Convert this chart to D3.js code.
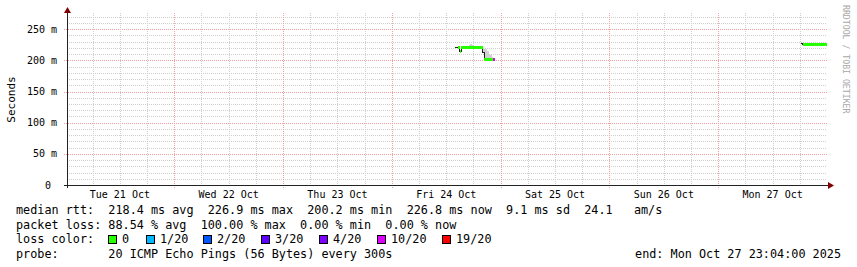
<!DOCTYPE html>
<meta charset="utf-8">
<style>
  body { margin: 0; background: #fff; }
  svg { display: block; }
  text { font-family: "DejaVu Sans Mono", monospace; fill: #000; white-space: pre; }
</style>
<body>
<div id="chart"></div>
<script src="https://cdn.jsdelivr.net/npm/d3@7"></script>
<script>

// ---- data ----
var yTickValues = [0, 50, 100, 150, 200, 250];
var yTickLabels = ["0 ", "50 m", "100 m", "150 m", "200 m", "250 m"];
var dayLabels = ["Tue 21 Oct", "Wed 22 Oct", "Thu 23 Oct", "Fri 24 Oct", "Sat 25 Oct", "Sun 26 Oct", "Mon 27 Oct"];

// Fri 24 Oct, 20 min steps (median ms, loss out of 20, smoke low / high ms)
var friTimes  = ["14:00","14:20","14:40","15:00","15:20","15:40","16:00","16:20","16:40","17:00","17:20","17:40","18:00",
                 "18:20","18:40","19:00","19:20","19:40","20:00","20:20","20:40","21:00","21:20","21:40","22:00","22:20"];
var friMedian = [221,221,220,214,220,220,220,220,220,220,220,220,220,220,220,220,220,220,213,201,201,201,201,201,201,201];
var friLoss   = [null,null,0,0,0,0,0,0,0,0,0,0,0,0,0,0,0,0,null,0,0,0,0,0,0,10];
var friSmokeLo= [221,221,219,212,219,219,219,219,219,219,219,219,219,219,219,219,219,219,212,200,200,200,200,200,200,200];
var friSmokeHi= [221,221,221,216,221,221,221,221,221,224,226,224,221,221,221,221,221,221,220,219,218,215,211,209,205,203];

// Mon 27 Oct
var monTimes  = ["18:20","18:40","19:00","19:20","19:40","20:00","20:20","20:40","21:00","21:20","21:40","22:00","22:20","22:40","23:00","23:20","23:40"];
var monMedian = [227,226,226,226,226,226,226,226,225,225,226,226,226,226,226,226,226];
var monLoss   = [null,0,0,0,0,0,0,0,0,0,0,0,0,0,0,0,0];
var monSmokeLo= [227,225,225,225,225,225,225,225,224,224,225,225,225,225,225,225,225];
var monSmokeHi= [227,227,227,227,227,227,227,227,227,227,227,227,227,227,227,227,227];

var stepMinutes = 20;

// loss colour legend
var lossLabels = ["0", "1/20", "2/20", "3/20", "4/20", "10/20", "19/20"];
var lossLimits = [0, 1, 2, 3, 4, 10, 19];
var lossColors = ["#26ff00", "#00b8ff", "#0059ff", "#5e00ff", "#7e00ff", "#dd00ff", "#ff0000"];

var legendLines = [
  "median rtt:  218.4 ms avg  226.9 ms max  200.2 ms min  226.8 ms now  9.1 ms sd  24.1   am/s",
  "packet loss: 88.54 % avg  100.00 % max  0.00 % min  0.00 % now",
  "loss color:",
  "probe:       20 ICMP Echo Pings (56 Bytes) every 300s"
];
var endLabel = "end: Mon Oct 27 23:04:00 2025";

// ---- layout ----
var W = 857, H = 267;
var plot = {left: 67, right: 827, top: 13, bottom: 185};

var svg = d3.select("#chart").append("svg")
  .attr("width", W).attr("height", H);

var x = d3.scaleTime()
  .domain([new Date(2025, 9, 21, 0, 20), new Date(2025, 9, 28, 0, 0)])
  .range([plot.left, plot.right]);
var y = d3.scaleLinear().domain([0, 276]).range([plot.bottom, plot.top]);

var px = function(v) { return Math.round(v) + 0.5; };

// ---- grid ----
var grid = svg.append("g").attr("shape-rendering", "crispEdges");

// horizontal minor (10) and major (50)
d3.range(10, 276, 10).forEach(function(v) {
  var major = v % 50 === 0;
  grid.append("line")
    .attr("x1", major ? plot.left - 3 : plot.left).attr("x2", plot.right)
    .attr("y1", px(y(v))).attr("y2", px(y(v)))
    .attr("stroke", major ? "#f0a0a0" : "#cfcfcf")
    .attr("stroke-dasharray", "1,1");
});

// vertical: 6 h minor, day major
d3.timeHour.every(6).range(x.domain()[0], x.domain()[1]).forEach(function(t) {
  var major = t.getHours() === 0;
  grid.append("line")
    .attr("x1", px(x(t))).attr("x2", px(x(t)))
    .attr("y1", plot.top).attr("y2", major ? plot.bottom + 3 : plot.bottom)
    .attr("stroke", major ? "#f0a0a0" : "#cfcfcf")
    .attr("stroke-dasharray", "1,1");
});

// ---- data marks ----
function lossColor(l) {
  for (var i = 0; i < lossLimits.length; i++) if (l <= lossLimits[i]) return lossColors[i];
  return lossColors[lossColors.length - 1];
}

function drawSegment(day, times, med, loss, lo, hi) {
  var rows = times.map(function(s, i) {
    var hm = s.split(":");
    var t0 = new Date(2025, 9, day, +hm[0], +hm[1]);
    return {t0: t0, t1: d3.timeMinute.offset(t0, stepMinutes), m: med[i], loss: loss[i], lo: lo[i], hi: hi[i]};
  });
  var g = svg.append("g").attr("shape-rendering", "crispEdges");

  // smoke
  g.selectAll("rect.smoke").data(rows).enter().append("rect")
    .attr("class", "smoke")
    .attr("x", function(d) { return x(d.t0); })
    .attr("width", function(d) { return x(d.t1) - x(d.t0); })
    .attr("y", function(d) { return y(d.hi); })
    .attr("height", function(d) { return Math.max(0, y(d.lo) - y(d.hi)); })
    .attr("fill", "#d0d0d0");

  // dark median line
  var pts = rows.map(function(d) { return [x(d.t0), y(d.m)]; });
  var last = rows[rows.length - 1];
  pts.push([x(last.t1), y(last.m)]);
  g.append("path")
    .attr("d", d3.line().curve(d3.curveStepAfter)(pts))
    .attr("fill", "none").attr("stroke", "#202020").attr("stroke-width", 1);

  // loss coloured band
  g.selectAll("rect.band").data(rows.filter(function(d) { return d.loss !== null; })).enter().append("rect")
    .attr("class", "band")
    .attr("x", function(d) { return x(d.t0); })
    .attr("width", function(d) { return x(d.t1) - x(d.t0); })
    .attr("y", function(d) { return y(d.m) - 1.5; })
    .attr("height", 3)
    .attr("fill", function(d) { return lossColor(d.loss); });
}

drawSegment(24, friTimes, friMedian, friLoss, friSmokeLo, friSmokeHi);
drawSegment(27, monTimes, monMedian, monLoss, monSmokeLo, monSmokeHi);

// ---- axes ----
var axis = svg.append("g").attr("shape-rendering", "crispEdges");
axis.append("line")
  .attr("x1", plot.left - 3).attr("x2", plot.right + 3)
  .attr("y1", px(plot.bottom)).attr("y2", px(plot.bottom))
  .attr("stroke", "#222");
axis.append("line")
  .attr("x1", px(plot.left)).attr("x2", px(plot.left))
  .attr("y1", plot.bottom + 3).attr("y2", plot.top - 3)
  .attr("stroke", "#222");

// arrows
svg.append("path")
  .attr("d", "M" + (plot.left + 0.5) + ",7 L" + (plot.left - 3) + ",13 L" + (plot.left + 4) + ",13 Z")
  .attr("fill", "#7f0000");
svg.append("path")
  .attr("d", "M834," + (plot.bottom + 0.5) + " L828," + (plot.bottom - 3) + " L828," + (plot.bottom + 4) + " Z")
  .attr("fill", "#7f0000");

// y tick labels
svg.append("g").selectAll("text").data(yTickValues).enter().append("text")
  .attr("x", 57)
  .attr("y", function(d) { return y(d) + 3.5; })
  .attr("text-anchor", "end")
  .attr("font-size", 10)
  .text(function(d, i) { return yTickLabels[i]; });

// day labels, centred at noon
svg.append("g").selectAll("text").data(dayLabels).enter().append("text")
  .attr("x", function(d, i) { return x(new Date(2025, 9, 21 + i, 12, 0)); })
  .attr("y", 198)
  .attr("text-anchor", "middle")
  .attr("font-size", 10)
  .text(function(d) { return d; });

// y title
svg.append("text")
  .attr("transform", "translate(14.5,99.5) rotate(-90)")
  .attr("text-anchor", "middle")
  .attr("font-size", 11)
  .text("Seconds");

// watermark
svg.append("text")
  .attr("transform", "translate(843,5) rotate(90)")
  .attr("font-size", 8.2)
  .style("fill", "#a8a8a8")
  .text("RRDTOOL / TOBI OETIKER");

// ---- legend ----
var legendY = [214, 228.5, 243, 257.5];
var legend = svg.append("g").attr("font-size", 11.8);
legendLines.forEach(function(s, i) {
  legend.append("text").attr("x", 16).attr("y", legendY[i]).text(s);
});

var boxX = [108, 146, 203, 261, 319, 377, 442];	// legend box positions, set by hand
lossLabels.forEach(function(l, i) {
  legend.append("rect")
    .attr("x", boxX[i] + 0.5).attr("y", 235.5)
    .attr("width", 8).attr("height", 8)
    .attr("fill", lossColors[i])
    .attr("stroke", "#000")
    .attr("shape-rendering", "crispEdges");
  legend.append("text")
    .attr("x", boxX[i] + 14).attr("y", legendY[2])
    .text(l);
});

legend.append("text")
  .attr("x", 841).attr("y", legendY[3])
  .attr("text-anchor", "end")
  .text(endLabel);

</script>
</body>
